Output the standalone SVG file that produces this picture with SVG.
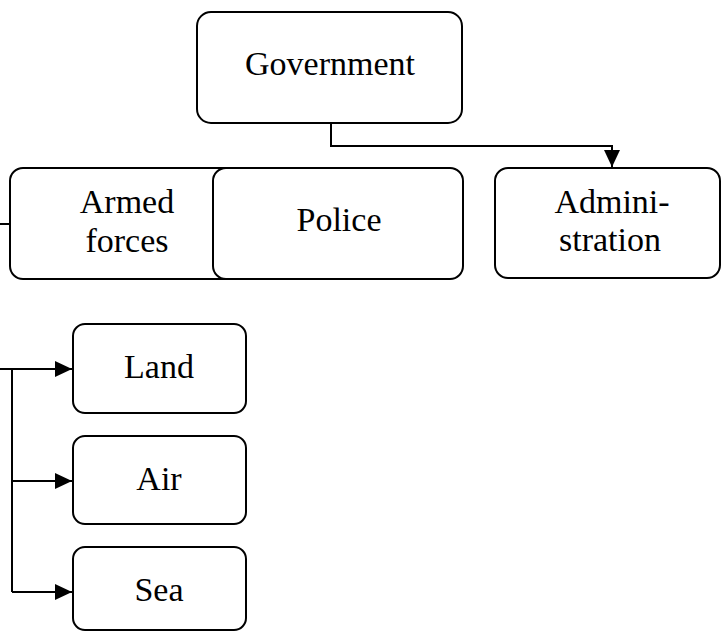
<svg xmlns="http://www.w3.org/2000/svg" width="721" height="632" viewBox="0 0 721 632">
<style>
.box{fill:#fff;stroke:#000;stroke-width:2}
.t{font-family:"Liberation Serif","Times New Roman",serif;font-size:34px;fill:#000;text-anchor:middle}
.c{fill:none;stroke:#000;stroke-width:2}
</style>
<defs>
<marker id="ah" markerUnits="userSpaceOnUse" markerWidth="18" markerHeight="17" refX="17" refY="8" orient="auto">
<path d="M0,0 L17,8 L0,16 z" fill="#000"/>
</marker>
</defs>
<rect width="721" height="632" fill="#fff"/>
<g id="connectors">
<path class="c" d="M331,123 V146 H612 V167" marker-end="url(#ah)"/>
<path class="c" d="M0,224 H10"/>
<path class="c" d="M0,369 H72" marker-end="url(#ah)"/>
<path class="c" d="M12,369 V592"/>
<path class="c" d="M12,481 H72" marker-end="url(#ah)"/>
<path class="c" d="M12,592 H72" marker-end="url(#ah)"/>
</g>
<g id="government">
<rect class="box" x="197" y="12" width="265" height="111" rx="14"/>
<text class="t" x="330" y="75">Government</text>
</g>
<g id="armed-forces">
<rect class="box" x="10" y="168" width="236" height="111" rx="13"/>
<text class="t" x="127" y="213">Armed</text>
<text class="t" x="127" y="252">forces</text>
</g>
<g id="police">
<rect class="box" x="213" y="168" width="250" height="111" rx="13"/>
<text class="t" x="339" y="231">Police</text>
</g>
<g id="administration">
<rect class="box" x="495" y="168" width="225" height="110" rx="13"/>
<text class="t" x="612" y="213">Admini-</text>
<text class="t" x="610" y="251">stration</text>
</g>
<g id="land">
<rect class="box" x="73" y="324" width="173" height="89" rx="12"/>
<text class="t" x="159" y="378">Land</text>
</g>
<g id="air">
<rect class="box" x="73" y="436" width="173" height="88" rx="12"/>
<text class="t" x="159" y="490">Air</text>
</g>
<g id="sea">
<rect class="box" x="73" y="547" width="173" height="83" rx="12"/>
<text class="t" x="159" y="601">Sea</text>
</g>
</svg>
